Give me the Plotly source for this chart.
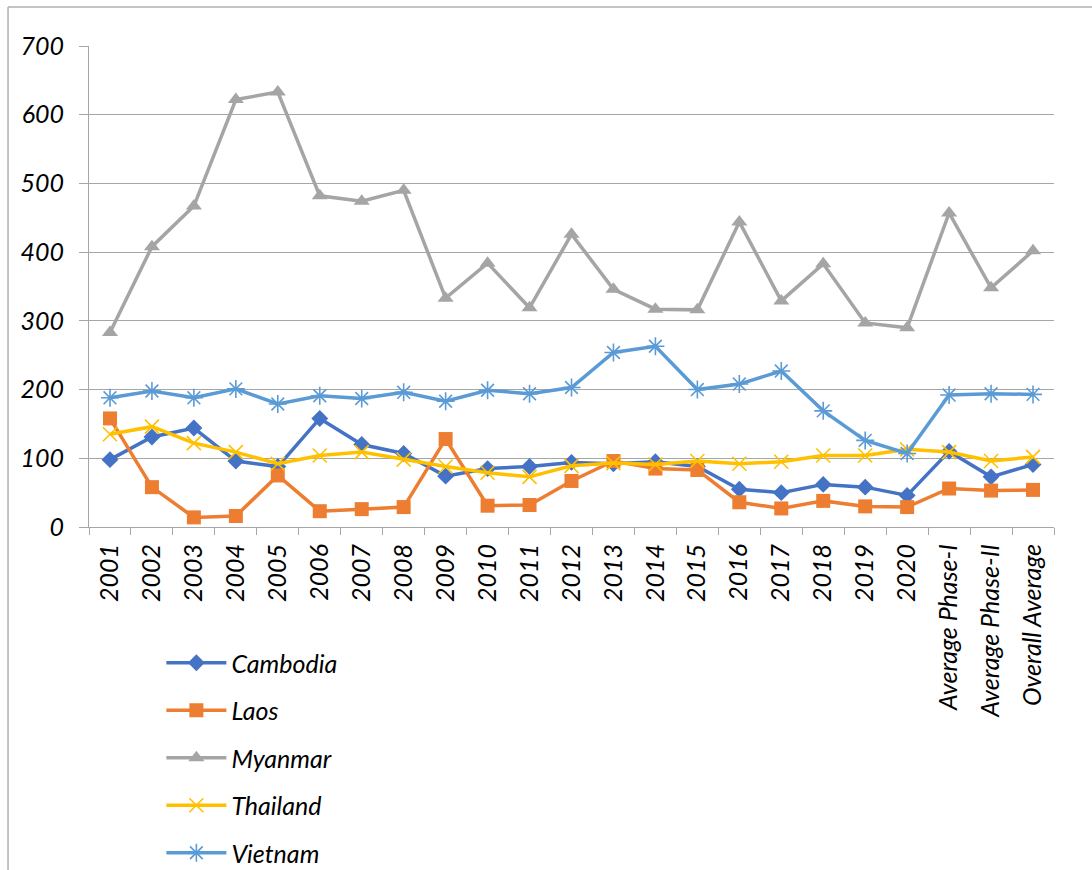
import plotly.graph_objects as go

categories = [str(y) for y in range(2001, 2021)] + [
    "Average Phase-I", "Average Phase-II", "Overall Average"]

cambodia = [98, 131, 144, 96, 88, 158, 120, 107, 74, 85, 88, 94, 92, 95, 88,
            55, 50, 62, 58, 46, 110, 73, 91]
laos = [158, 58, 14, 16, 75, 23, 26, 29, 128, 31, 32, 67, 96, 85, 83,
        36, 27, 38, 30, 29, 56, 53, 54]
myanmar = [283, 408, 467, 622, 633, 482, 474, 490, 333, 384, 319, 426, 346,
           317, 316, 444, 329, 383, 297, 290, 457, 348, 402]
thailand = [135, 146, 122, 109, 92, 104, 109, 98, 88, 79, 73, 89, 93, 91, 96,
            92, 95, 104, 104, 113, 109, 96, 102]
vietnam = [188, 198, 188, 201, 179, 191, 187, 196, 183, 199, 194, 203, 254,
           263, 200, 208, 227, 169, 126, 107, 192, 194, 193]

series = [
    ("Cambodia", cambodia, "#4472C4", "diamond", 13, 0),
    ("Laos", laos, "#ED7D31", "square", 14, 0),
    ("Myanmar", myanmar, "#A5A5A5", "triangle-up", 14, 0),
    ("Thailand", thailand, "#FFC000", "x-thin-open", 14, 1.6),
    ("Vietnam", vietnam, "#5B9BD5", "asterisk-open", 15, 1.6),
]

FONT = "Lato"
FSIZE = 25
GRID = "#A6A6A6"

fig = go.Figure()
for name, vals, color, symbol, size, mlw in series:
    marker = dict(symbol=symbol, size=size, color=color)
    if mlw:
        marker["line"] = dict(color=color, width=mlw)
    else:
        marker["line"] = dict(width=0)
    fig.add_trace(go.Scatter(
        x=categories, y=vals, name=name, mode="lines+markers",
        legendgroup=name,
        line=dict(color=color, width=3.5),
        marker=marker,
    ))

fig.update_layout(
    width=1092, height=870,
    margin=dict(l=89, r=38, t=46, b=343, autoexpand=False),
    paper_bgcolor="white", plot_bgcolor="white",
    font=dict(family=FONT, size=FSIZE, color="black"),
    showlegend=True,
    legend=dict(
        x=0.075, y=-0.235, xanchor="left", yanchor="top",
        orientation="v", traceorder="grouped", tracegroupgap=12,
        font=dict(family=FONT, size=FSIZE, style="italic", color="black"),
        itemwidth=60, bgcolor="rgba(0,0,0,0)",
    ),
    shapes=[
        dict(type="line", xref="paper", yref="paper",
             x0=-0.0839, x1=1.1, y0=1.0811, y1=1.0811,
             line=dict(color="#B0B0B0", width=1.5)),
        dict(type="line", xref="paper", yref="paper",
             x0=-0.0839, x1=-0.0839, y0=1.0811, y1=-0.75,
             line=dict(color="#B0B0B0", width=1.5)),
    ],
)

fig.update_xaxes(
    type="category", range=[-0.5, len(categories) - 0.5],
    tickangle=-90, tickson="boundaries",
    ticks="outside", ticklen=7, tickcolor=GRID, tickwidth=1,
    showline=True, linecolor=GRID, linewidth=1,
    showgrid=False, zeroline=False,
    tickfont=dict(family=FONT, size=FSIZE, style="italic", color="black"),
    ticklabelstandoff=6,
)
fig.update_yaxes(
    range=[0, 700], dtick=100, tick0=0,
    ticks="outside", ticklen=9, tickcolor=GRID, tickwidth=1,
    showline=True, linecolor=GRID, linewidth=1,
    showgrid=True, gridcolor=GRID, gridwidth=1, zeroline=False,
    tickfont=dict(family=FONT, size=FSIZE, style="italic", color="black"),
    ticklabelstandoff=10,
)

fig.write_html("out.html")
